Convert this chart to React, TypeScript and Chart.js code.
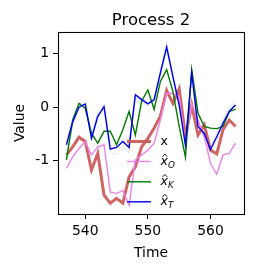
import React, { useEffect, useRef } from "react";
import { Chart, registerables } from "chart.js";

Chart.register(...registerables);

const times = [537, 538, 539, 540, 541, 542, 543, 544, 545, 546, 547, 548, 549, 550, 551, 552, 553, 554, 555, 556, 557, 558, 559, 560, 561, 562, 563, 564];

const seriesX = [-0.89, -0.74, -0.56, -0.64, -1.17, -0.86, -1.64, -1.79, -1.70, -1.79, -1.30, -1.11, -0.74, -0.58, -0.39, -0.17, 0.31, 0.07, 0.34, -0.55, 0.04, -0.52, -0.33, -0.80, -0.87, -0.42, -0.24, -0.36];
const seriesO = [-1.14, -0.92, -0.77, -0.64, -0.89, -0.74, -0.70, -1.58, -1.61, -1.55, -1.83, -0.98, -0.89, -0.80, -0.67, -0.24, 0.26, 0.26, 0.20, -0.67, 0.07, -0.24, -0.55, -1.05, -1.25, -0.89, -0.86, -0.67];
const seriesK = [-0.98, -0.24, 0.07, -0.02, -0.49, -0.67, -0.45, -0.45, -0.70, -0.42, -0.08, -0.52, 0.11, 0.32, -0.04, 0.48, 0.70, 0.29, -0.36, -0.93, 0.70, -0.11, -0.36, -0.39, -0.40, -0.36, -0.08, -0.04];
const seriesT = [-0.70, -0.27, 0.00, 0.06, -0.58, -0.17, 0.01, -0.78, -0.75, -0.64, -0.75, 0.23, 0.14, 0.06, 0.14, 0.64, 1.12, 0.57, 0.04, -0.70, 0.64, -0.36, -0.49, -0.79, -0.55, -0.30, -0.08, 0.04];
const sampleA = [-0.60, -0.20, 0.05, 0.10, -0.50, -0.10, 0.05, -0.65, -0.60, -0.55, -0.62, 0.25, 0.18, 0.10, 0.18, 0.70, 1.22, 0.62, 0.10, -0.62, 0.66, -0.30, -0.42, -0.70, -0.48, -0.22, 0.00, 0.12];
const sampleB = [-0.80, -0.35, -0.05, 0.00, -0.62, -0.22, -0.05, -0.85, -0.88, -0.75, -0.85, 0.18, 0.10, 0.02, 0.10, 0.58, 1.05, 0.52, 0.00, -0.75, 0.60, -0.42, -0.55, -0.88, -0.62, -0.35, -0.15, -0.02];
const sampleC = [-0.65, -0.30, 0.03, 0.04, -0.55, -0.15, 0.00, -0.72, -0.70, -0.60, -0.70, 0.20, 0.16, 0.08, 0.12, 0.66, 1.15, 0.55, 0.06, -0.68, 0.62, -0.33, -0.46, -0.75, -0.52, -0.26, -0.05, 0.08];

const xTicks = [540, 550, 560];
const yTicks = [-1, 0, 1];
const yTickLabels = ["-1", "0", "1"];

const titleText = "Process 2";
const xLabel = "Time";
const yLabel = "Value";

const legendEntries = [
  { main: "x", sub: "", hat: false, color: "rgba(205,92,92,0.95)", width: 3 },
  { main: "x", sub: "O", hat: true, color: "#ee82ee", width: 1.4 },
  { main: "x", sub: "K", hat: true, color: "#007a00", width: 1.4 },
  { main: "x", sub: "T", hat: true, color: "#0000e6", width: 1.4 },
];

const FONT = "'DejaVu Sans', sans-serif";

const pts = (vals: number[]) => vals.map((v, i) => ({ x: times[i], y: v }));

const decorPlugin = {
  id: "decor",
  afterDraw(chart: any) {
    const ctx = chart.ctx as CanvasRenderingContext2D;
    const a = chart.chartArea;
    ctx.save();
    ctx.strokeStyle = "#000";
    ctx.lineWidth = 1.1;
    ctx.strokeRect(Math.round(a.left) + 0.5, Math.round(a.top) + 0.5, Math.round(a.right - a.left), Math.round(a.bottom - a.top));
    ctx.fillStyle = "#000";
    ctx.textAlign = "center";
    ctx.textBaseline = "alphabetic";
    ctx.font = `16.5px ${FONT}`;
    const cx = (a.left + a.right) / 2;
    ctx.fillText(titleText, cx, 25);
    ctx.font = `13.9px ${FONT}`;
    ctx.fillText(xLabel, cx, 257.3);
    ctx.save();
    ctx.translate(24, (a.top + a.bottom) / 2);
    ctx.rotate(-Math.PI / 2);
    ctx.fillText(yLabel, 0, 0);
    ctx.restore();
    const rowY = [141.5, 161.5, 181.8, 201.8];
    const hx0 = 127, hx1 = 151, tx = 160.5;
    legendEntries.forEach((e, i) => {
      const cy = rowY[i];
      ctx.strokeStyle = e.color;
      ctx.lineWidth = e.width;
      ctx.beginPath();
      ctx.moveTo(hx0, cy);
      ctx.lineTo(hx1, cy);
      ctx.stroke();
      ctx.fillStyle = "#000";
      ctx.textAlign = "left";
      const base = cy + 3.6;
      if (!e.hat) {
        ctx.font = `12.5px ${FONT}`;
        ctx.fillText(e.main, tx, base);
      } else {
        ctx.font = `italic 12.5px ${FONT}`;
        ctx.fillText(e.main, tx, base);
        const w = ctx.measureText(e.main).width;
        ctx.strokeStyle = "#000";
        ctx.lineWidth = 0.9;
        ctx.beginPath();
        ctx.moveTo(tx + 1.8, base - 8.4);
        ctx.lineTo(tx + 4.4, base - 10.9);
        ctx.lineTo(tx + 7.0, base - 8.4);
        ctx.stroke();
        ctx.font = `italic 8.8px ${FONT}`;
        ctx.fillText(e.sub, tx + w + 0.2, base + 2.6);
      }
    });
    ctx.restore();
  },
};

export default function App() {
  const ref = useRef<HTMLCanvasElement | null>(null);
  useEffect(() => {
    if (!ref.current) return;
    const faint = (vals: number[]) => ({
      data: pts(vals),
      borderColor: "rgba(150,175,225,0.35)",
      borderWidth: 0.8,
      pointRadius: 0,
      tension: 0,
      order: 5,
    });
    const chart = new Chart(ref.current, {
      type: "line",
      data: {
        datasets: [
          faint(sampleA),
          faint(sampleB),
          faint(sampleC),
          { data: pts(seriesX), borderColor: "rgba(205,92,92,0.95)", borderWidth: 3, pointRadius: 0, tension: 0, order: 4 },
          { data: pts(seriesO), borderColor: "#ee82ee", borderWidth: 1.4, pointRadius: 0, tension: 0, order: 3 },
          { data: pts(seriesK), borderColor: "#007a00", borderWidth: 1.4, pointRadius: 0, tension: 0, order: 2 },
          { data: pts(seriesT), borderColor: "#0000e6", borderWidth: 1.4, pointRadius: 0, tension: 0, order: 1 },
        ],
      },
      options: {
        responsive: false,
        animation: false,
        layout: { padding: { left: 0, top: 32, right: 12, bottom: 0 } },
        plugins: { legend: { display: false }, tooltip: { enabled: false }, title: { display: false } },
        scales: {
          x: {
            type: "linear",
            min: 535.65,
            max: 565.35,
            afterFit: (s: any) => { s.height = 58; },
            afterBuildTicks: (s: any) => { s.ticks = xTicks.map((v) => ({ value: v })); },
            grid: { drawOnChartArea: false, drawTicks: true, tickLength: 5, color: "#000", lineWidth: 1 },
            border: { display: false },
            ticks: { color: "#000", padding: 4, font: { family: FONT, size: 13.9 }, maxRotation: 0, callback: (v: any) => String(v) },
          },
          y: {
            type: "linear",
            min: -1.99,
            max: 1.4,
            afterFit: (s: any) => { s.width = 58; },
            afterBuildTicks: (s: any) => { s.ticks = yTicks.map((v) => ({ value: v })); },
            grid: { drawOnChartArea: false, drawTicks: true, tickLength: 5, color: "#000", lineWidth: 1 },
            border: { display: false },
            ticks: {
              color: "#000",
              padding: 4,
              font: { family: FONT, size: 13.9 },
              callback: (v: any) => yTickLabels[yTicks.indexOf(v)] ?? "",
            },
          },
        },
      },
      plugins: [decorPlugin],
    } as any);
    return () => chart.destroy();
  }, []);
  return (
    <div style={{ position: "fixed", left: 0, top: 0, width: 256, height: 272, background: "#fff" }}>
      <canvas ref={ref} width={256} height={272} style={{ display: "block" }} />
    </div>
  );
}
